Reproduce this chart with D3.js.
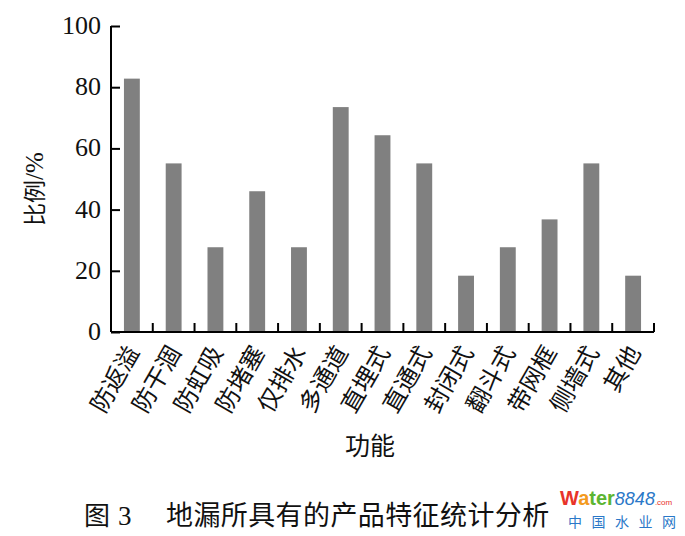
<!DOCTYPE html>
<html>
<head>
<meta charset="utf-8">
<script src="https://cdn.jsdelivr.net/npm/d3@7"></script>
<style>
  html, body { margin: 0; padding: 0; background: #ffffff; }
  svg { display: block; }
  .num { font-family: "Liberation Serif", "DejaVu Serif", serif; }
  .cjk { font-family: "Noto Sans CJK SC", "Noto Sans CJK JP", sans-serif; }
</style>
</head>
<body>
<svg id="chart" width="685" height="536"></svg>
<script>
const categories = ["防返溢","防干涸","防虹吸","防堵塞","仅排水","多通道","直埋式","直通式","封闭式","翻斗式","带网框","侧墙式","其他"];
const values = [82.8, 55.1, 27.7, 46.0, 27.7, 73.5, 64.3, 55.1, 18.4, 27.7, 36.8, 55.1, 18.4];
const yTicks = [0, 20, 40, 60, 80, 100];
const yTitle = "比例";
const yUnit = "/%";
const xTitle = "功能";
const captionNo = "图 3";
const captionText = "地漏所具有的产品特征统计分析";

const svg = d3.select("#chart");
const margin = {left: 111, right: 31, top: 26, bottom: 204};
const W = 685, H = 536;

const x = d3.scaleBand().domain(categories).range([margin.left, W - margin.right]).padding(0);
const y = d3.scaleLinear().domain([0, 100]).range([H - margin.bottom, margin.top]);

const barW = x.bandwidth() * 0.38;

// bars
svg.append("g").selectAll("rect").data(values).join("rect")
  .attr("x", (d, i) => x(categories[i]) + x.bandwidth() / 2 - barW / 2)
  .attr("y", d => y(d))
  .attr("width", barW)
  .attr("height", d => y(0) - y(d))
  .attr("fill", "#808080");

// y axis
const yAxis = svg.append("g")
  .attr("transform", `translate(${margin.left},0)`)
  .call(d3.axisRight(y).tickValues(yTicks).tickSize(9).tickFormat(""));
yAxis.select(".domain").attr("d", `M0,${y(100)}V${y(0)}`).attr("stroke", "#000").attr("stroke-width", 2);
yAxis.selectAll(".tick line").attr("stroke", "#000").attr("stroke-width", 2);

svg.append("g").selectAll("text").data(yTicks).join("text")
  .attr("class", "num")
  .attr("x", margin.left - 10)
  .attr("y", d => y(d) + 8)
  .attr("text-anchor", "end")
  .attr("font-size", 26)
  .attr("fill", "#111")
  .text(d => d);

// x axis with ticks at band boundaries, pointing up
const boundaries = categories.map(c => x(c) + x.bandwidth());
const xg = svg.append("g");
xg.append("line")
  .attr("x1", margin.left).attr("x2", W - margin.right)
  .attr("y1", y(0)).attr("y2", y(0))
  .attr("stroke", "#000").attr("stroke-width", 2);
xg.selectAll("line.tk").data(boundaries).join("line")
  .attr("class", "tk")
  .attr("x1", d => d).attr("x2", d => d)
  .attr("y1", y(0)).attr("y2", y(0) - 9)
  .attr("stroke", "#000").attr("stroke-width", 2);

// x labels rotated
svg.append("g").selectAll("text").data(categories).join("text")
  .attr("class", "cjk")
  .attr("transform", c => `translate(${x(c) + x.bandwidth() / 2 + 1},${y(0) + 16}) rotate(-60)`)
  .attr("text-anchor", "end")
  .attr("dy", "0.35em")
  .attr("font-size", 24)
  .attr("fill", "#111")
  .text(c => c);

// y title
const yt = svg.append("text")
  .attr("transform", `translate(43,${189}) rotate(-90)`)
  .attr("text-anchor", "middle")
  .attr("font-size", 23)
  .attr("fill", "#111");
yt.append("tspan").attr("class", "cjk").text(yTitle);
yt.append("tspan").attr("class", "num").attr("font-size", 25).text(yUnit);

// x title
svg.append("text")
  .attr("class", "cjk")
  .attr("x", 370)
  .attr("y", 455)
  .attr("text-anchor", "middle")
  .attr("font-size", 25)
  .attr("fill", "#111")
  .text(xTitle);

// caption
const cap = svg.append("g").attr("fill", "#111");
cap.append("text").attr("x", 84).attr("y", 525)
  .attr("font-size", 26)
  .call(t => {
    t.append("tspan").attr("class", "cjk").text(captionNo.split(" ")[0]);
    t.append("tspan").attr("class", "num").attr("dx", 8).attr("font-size", 27).text(captionNo.split(" ")[1]);
  });
cap.append("text").attr("class", "cjk").attr("x", 166).attr("y", 525)
  .attr("font-size", 27).attr("letter-spacing", 0.4)
  .text(captionText);

// watermark
const wm = svg.append("g");
const w1 = wm.append("text").attr("x", 560).attr("y", 505)
  .attr("font-family", "Liberation Sans, Arial, sans-serif").attr("font-weight", "bold").attr("font-size", 20);
w1.append("tspan").attr("fill", "#e8332a").text("W");
w1.append("tspan").attr("fill", "#f39a1e").text("a");
w1.append("tspan").attr("fill", "#5cb531").text("ter");
w1.append("tspan").attr("fill", "#2a78c8").attr("font-style", "italic").attr("font-weight", "normal").attr("font-size", 18).text("8848");
w1.append("tspan").attr("fill", "#e8332a").attr("font-weight", "normal").attr("font-size", 8).text(".com");
wm.append("text").attr("class", "cjk").attr("x", 568).attr("y", 527)
  .attr("font-size", 14).attr("fill", "#2a78c8")
  .attr("letter-spacing", 9.5)
  .text("中国水业网");
</script>
</body>
</html>
